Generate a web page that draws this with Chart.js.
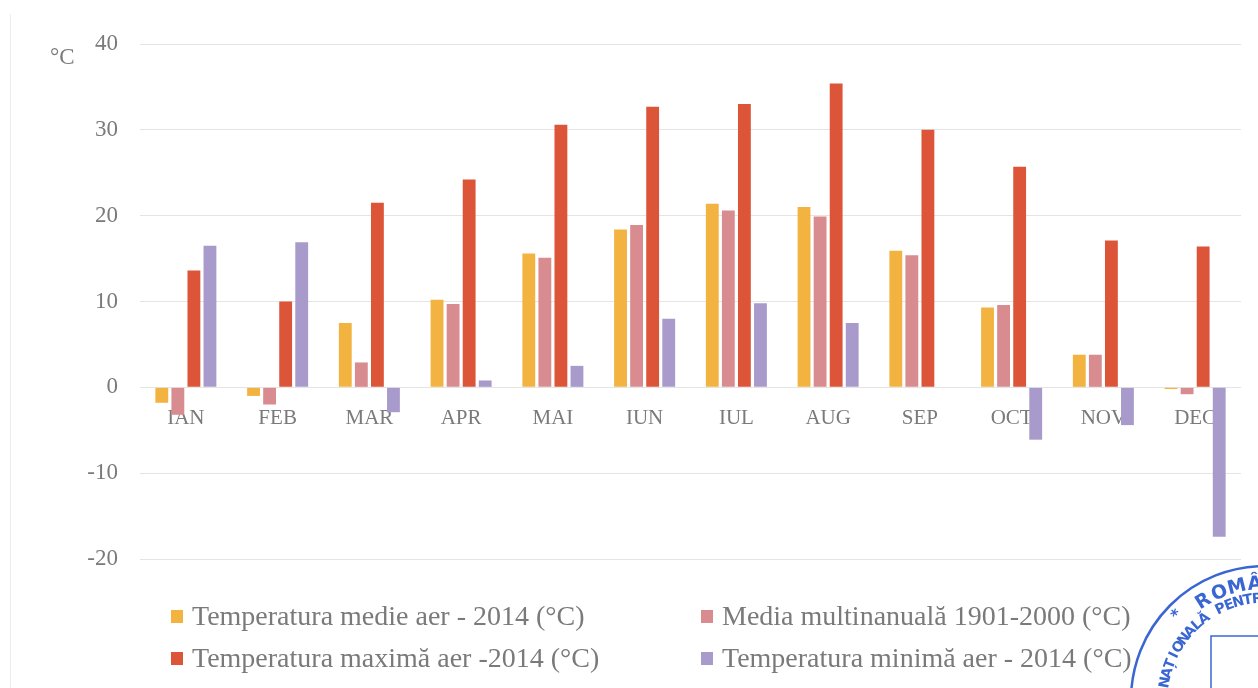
<!DOCTYPE html>
<html>
<head>
<meta charset="utf-8">
<script src="https://cdn.jsdelivr.net/npm/chart.js@4.4.1/dist/chart.umd.min.js"></script>
<style>
    html, body { margin: 0; padding: 0; background: #ffffff; }
    #wrap { width: 1258px; height: 688px; position: relative; }
</style>
</head>
<body>
<div id="wrap"><canvas id="tempChart"></canvas></div>
<script>
// Data
const months = ['IAN', 'FEB', 'MAR', 'APR', 'MAI', 'IUN', 'IUL', 'AUG', 'SEP', 'OCT', 'NOV', 'DEC'];
const tempMedie2014 = [-1.8, -1.0, 7.5, 10.2, 15.6, 18.4, 21.4, 21.0, 15.9, 9.3, 3.8, -0.2];
const mediaMultianuala = [-3.2, -2.0, 2.9, 9.7, 15.1, 18.9, 20.6, 19.9, 15.4, 9.6, 3.8, -0.8];
const tempMaxima2014 = [13.6, 10.0, 21.5, 24.2, 30.6, 32.7, 33.0, 35.4, 30.0, 25.7, 17.1, 16.4];
const tempMinima2014 = [16.5, 16.9, -2.9, 0.8, 2.5, 8.0, 9.8, 7.5, 0, -6.1, -4.4, -17.4];
const seriesNames = [
    'Temperatura medie aer - 2014 (°C)',
    'Media multinanuală 1901-2000 (°C)',
    'Temperatura maximă aer -2014 (°C)',
    'Temperatura minimă aer - 2014 (°C)'
];
const seriesColors = ['#f2b341', '#d98c8f', '#dc5538', '#a89bcb'];

const textGray = '#7a7a7a';
const serif = "'Liberation Serif', 'Times New Roman', serif";

// legend in two columns, plus the unit label and the stamp in the corner
const decorPlugin = {
    id: 'decor',
    afterDraw(chart) {
        const ctx = chart.ctx;
        ctx.save();

        // faint frame line on the left
        ctx.strokeStyle = '#ececec';
        ctx.lineWidth = 1;
        ctx.beginPath();
        ctx.moveTo(10.5, 14);
        ctx.lineTo(10.5, 688);
        ctx.stroke();

        // unit label
        ctx.fillStyle = textGray;
        ctx.font = '23px ' + serif;
        ctx.textBaseline = 'alphabetic';
        ctx.textAlign = 'left';
        ctx.fillText('°C', 50, 64);

        // legend
        const cols = [171, 701];
        const rows = [625, 667];
        const order = [[0, 0, 0], [1, 1, 0], [2, 0, 1], [3, 1, 1]];
        ctx.font = '28px ' + serif;
        order.forEach(([i, c, r]) => {
            const x = cols[c], y = rows[r];
            ctx.fillStyle = seriesColors[i];
            ctx.fillRect(x, y - 15, 12, 13);
            ctx.fillStyle = textGray;
            ctx.fillText(seriesNames[i], x + 21, y);
        });

        // stamp
        const cx = 1265, cy = 700;
        ctx.strokeStyle = '#3a66d4';
        ctx.fillStyle = '#3a66d4';
        ctx.lineWidth = 2.5;
        ctx.beginPath();
        ctx.arc(cx, cy, 134, 0, Math.PI * 2);
        ctx.stroke();
        const arcText = (text, r, start, step, font) => {
            ctx.font = font;
            ctx.textAlign = 'center';
            ctx.textBaseline = 'middle';
            for (let k = 0; k < text.length; k++) {
                const a = (start + k * step) * Math.PI / 180;
                ctx.save();
                ctx.translate(cx + r * Math.cos(a), cy + r * Math.sin(a));
                ctx.rotate(a + Math.PI / 2);
                ctx.fillText(text[k], 0, 0);
                ctx.restore();
            }
        };
        arcText('ROMÂNIA', 116, -122, 9, 'bold 19px "DejaVu Sans"');
        arcText('NAȚIONALĂ PENTRU', 101, -170, 5.4, 'bold 14px "DejaVu Sans"');
        arcText('*', 122, -136, 0, 'bold 16px "DejaVu Sans"');
        ctx.lineWidth = 1.5;
        ctx.strokeRect(1211, 636, 60, 60);
        ctx.restore();
    }
};

new Chart(document.getElementById('tempChart').getContext('2d'), {
    type: 'bar',
    data: {
        labels: months,
        datasets: [
            { label: seriesNames[0], data: tempMedie2014, backgroundColor: seriesColors[0] },
            { label: seriesNames[1], data: mediaMultianuala, backgroundColor: seriesColors[1] },
            { label: seriesNames[2], data: tempMaxima2014, backgroundColor: seriesColors[2] },
            { label: seriesNames[3], data: tempMinima2014, backgroundColor: seriesColors[3] }
        ]
    },
    options: {
        responsive: true,
        maintainAspectRatio: false,
        animation: false,
        categoryPercentage: 0.7,
        barPercentage: 0.8,
        layout: {
            padding: { top: 44, right: 17, bottom: 129, left: 0 }
        },
        plugins: {
            legend: { display: false },
            tooltip: { enabled: false }
        },
        scales: {
            x: {
                position: { y: 0 },
                grid: { display: false },
                border: { display: false },
                ticks: {
                    color: textGray,
                    padding: 11,
                    font: { family: serif, size: 21 }
                }
            },
            y: {
                min: -20,
                max: 40,
                afterFit: (scale) => { scale.width = 140; },
                ticks: {
                    stepSize: 10,
                    color: textGray,
                    padding: 22,
                    font: { family: serif, size: 23 }
                },
                grid: {
                    color: '#e4e4e4',
                    lineWidth: 1,
                    drawTicks: false
                },
                border: { display: false }
            }
        }
    },
    plugins: [decorPlugin]
});
</script>
</body>
</html>
